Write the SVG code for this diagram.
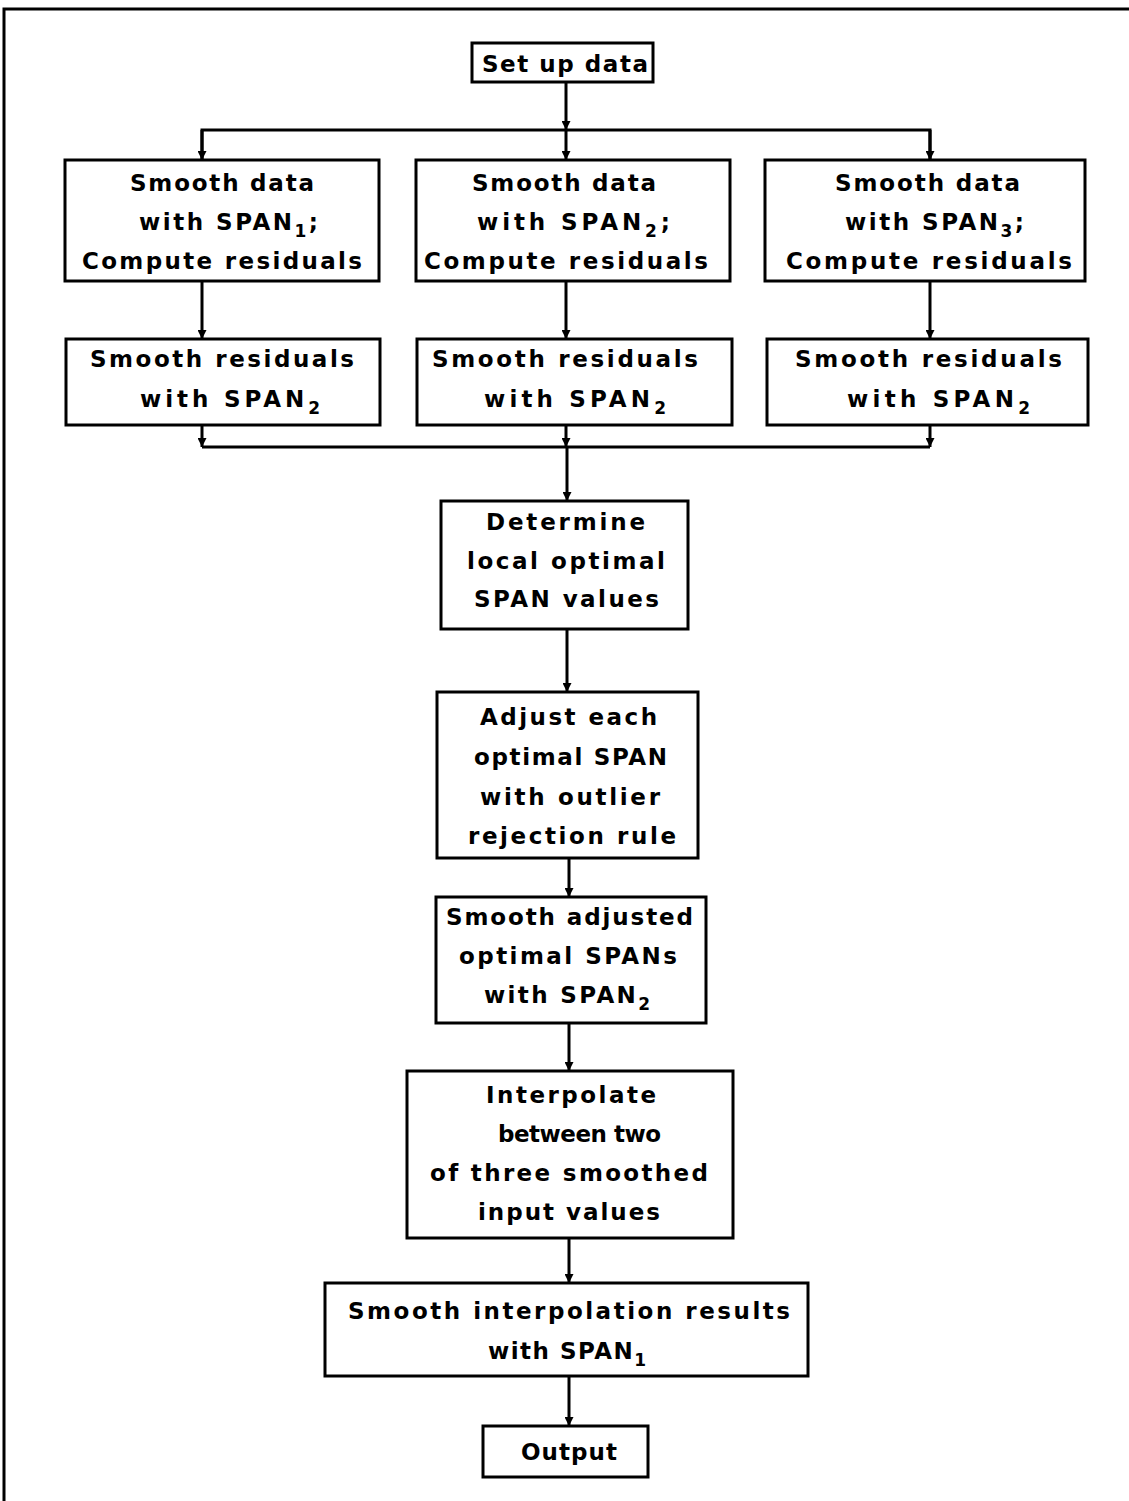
<svg xmlns="http://www.w3.org/2000/svg" width="1129" height="1501" viewBox="0 0 1129 1501">
<style>
.box{fill:#fff;stroke:#000;stroke-width:3}
.ln{fill:none;stroke:#000;stroke-width:3}
.t{font-family:"DejaVu Sans","Liberation Sans",sans-serif;font-size:23px;font-weight:bold;fill:#000;text-anchor:start}
.sub{font-size:17px}
</style>
<defs>
<marker id="ah" viewBox="0 0 10 10" refX="10" refY="5" markerWidth="9" markerHeight="9" markerUnits="userSpaceOnUse" orient="auto">
<path d="M0,0 L10,5 L0,10 z" fill="#000"/>
</marker>
</defs>
<rect width="1129" height="1501" fill="#fff"/>
<g id="frame"><path class="ln" d="M4,1501 L4,9 L1129,9"/></g>
<g id="connectors">
<path class="ln" d="M566,82 L566,130" marker-end="url(#ah)"/>
<path class="ln" d="M202,160 L202,130 L930,130 L930,160"/>
<path class="ln" d="M202,130 L202,160" marker-end="url(#ah)"/>
<path class="ln" d="M566,130 L566,160" marker-end="url(#ah)"/>
<path class="ln" d="M930,130 L930,160" marker-end="url(#ah)"/>
<path class="ln" d="M202,281 L202,339" marker-end="url(#ah)"/>
<path class="ln" d="M566,281 L566,339" marker-end="url(#ah)"/>
<path class="ln" d="M930,281 L930,339" marker-end="url(#ah)"/>
<path class="ln" d="M202,447 L930,447"/>
<path class="ln" d="M202,425 L202,447" marker-end="url(#ah)"/>
<path class="ln" d="M566,425 L566,447" marker-end="url(#ah)"/>
<path class="ln" d="M930,425 L930,447" marker-end="url(#ah)"/>
<path class="ln" d="M567,447 L567,501" marker-end="url(#ah)"/>
<path class="ln" d="M567,629 L567,692" marker-end="url(#ah)"/>
<path class="ln" d="M569,858 L569,897" marker-end="url(#ah)"/>
<path class="ln" d="M569,1023 L569,1071" marker-end="url(#ah)"/>
<path class="ln" d="M569,1238 L569,1283" marker-end="url(#ah)"/>
<path class="ln" d="M569,1376 L569,1426" marker-end="url(#ah)"/>
</g>
<g id="setup">
<rect class="box" x="472" y="43" width="181" height="39"/>
<text class="t" x="482" y="72" textLength="166">Set up data</text>
</g>
<g id="smooth1">
<rect class="box" x="65" y="160" width="314" height="121"/>
<text class="t" x="130" y="191" textLength="184">Smooth data</text>
<text class="t" x="139" y="230" textLength="179">with SPAN<tspan class="sub" dy="7">1</tspan><tspan dy="-7">;</tspan></text>
<text class="t" x="82" y="269" textLength="280">Compute residuals</text>
</g>
<g id="smooth2">
<rect class="box" x="416" y="160" width="314" height="121"/>
<text class="t" x="472" y="191" textLength="184">Smooth data</text>
<text class="t" x="477" y="230" textLength="193">with SPAN<tspan class="sub" dy="7">2</tspan><tspan dy="-7">;</tspan></text>
<text class="t" x="424" y="269" textLength="284">Compute residuals</text>
</g>
<g id="smooth3">
<rect class="box" x="765" y="160" width="320" height="121"/>
<text class="t" x="835" y="191" textLength="185">Smooth data</text>
<text class="t" x="845" y="230" textLength="179">with SPAN<tspan class="sub" dy="7">3</tspan><tspan dy="-7">;</tspan></text>
<text class="t" x="786" y="269" textLength="286">Compute residuals</text>
</g>
<g id="resid1">
<rect class="box" x="66" y="339" width="314" height="86"/>
<text class="t" x="90" y="367" textLength="264">Smooth residuals</text>
<text class="t" x="140" y="407" textLength="180">with SPAN<tspan class="sub" dy="7">2</tspan></text>
</g>
<g id="resid2">
<rect class="box" x="417" y="339" width="315" height="86"/>
<text class="t" x="432" y="367" textLength="266">Smooth residuals</text>
<text class="t" x="484" y="407" textLength="182">with SPAN<tspan class="sub" dy="7">2</tspan></text>
</g>
<g id="resid3">
<rect class="box" x="767" y="339" width="321" height="86"/>
<text class="t" x="795" y="367" textLength="267">Smooth residuals</text>
<text class="t" x="847" y="407" textLength="183">with SPAN<tspan class="sub" dy="7">2</tspan></text>
</g>
<g id="determine">
<rect class="box" x="441" y="501" width="247" height="128"/>
<text class="t" x="486" y="530" textLength="159">Determine</text>
<text class="t" x="467" y="569" textLength="198">local optimal</text>
<text class="t" x="474" y="607" textLength="185">SPAN values</text>
</g>
<g id="adjust">
<rect class="box" x="437" y="692" width="261" height="166"/>
<text class="t" x="480" y="725" textLength="177">Adjust each</text>
<text class="t" x="474" y="765" textLength="193">optimal SPAN</text>
<text class="t" x="480" y="805" textLength="180">with outlier</text>
<text class="t" x="468" y="844" textLength="208">rejection rule</text>
</g>
<g id="smoothadj">
<rect class="box" x="436" y="897" width="270" height="126"/>
<text class="t" x="446" y="925" textLength="247">Smooth adjusted</text>
<text class="t" x="459" y="964" textLength="218">optimal SPANs</text>
<text class="t" x="484" y="1003" textLength="166">with SPAN<tspan class="sub" dy="7">2</tspan></text>
</g>
<g id="interp">
<rect class="box" x="407" y="1071" width="326" height="167"/>
<text class="t" x="486" y="1103" textLength="170">Interpolate</text>
<text class="t" x="498" y="1142" textLength="163">between two</text>
<text class="t" x="430" y="1181" textLength="278">of three smoothed</text>
<text class="t" x="478" y="1220" textLength="182">input values</text>
</g>
<g id="smoothinterp">
<rect class="box" x="325" y="1283" width="483" height="93"/>
<text class="t" x="348" y="1319" textLength="442">Smooth interpolation results</text>
<text class="t" x="488" y="1359" textLength="158">with SPAN<tspan class="sub" dy="7">1</tspan></text>
</g>
<g id="output">
<rect class="box" x="483" y="1426" width="165" height="51"/>
<text class="t" x="521" y="1460" textLength="96">Output</text>
</g>
</svg>
